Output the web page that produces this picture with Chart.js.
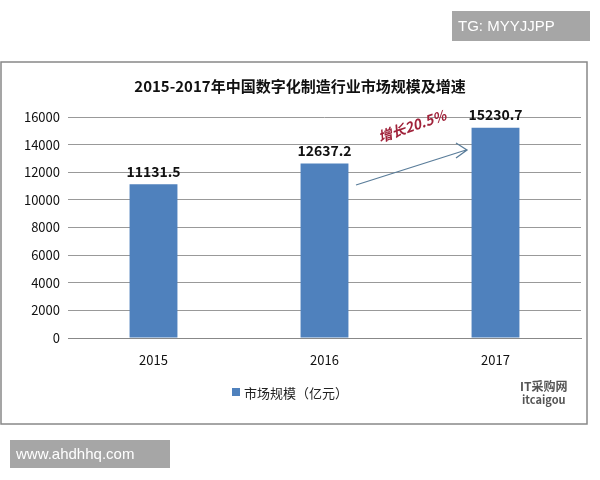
<!DOCTYPE html>
<html><head><meta charset="utf-8">
<script src="https://cdn.jsdelivr.net/npm/chart.js@4/dist/chart.umd.min.js"></script>
<style>body{margin:0;background:#fff}#c{display:block}</style>
</head><body>
<canvas id="c" width="600" height="480"></canvas>
<script>
var years = ["2015", "2016", "2017"];
var marketSize = [11131.5, 12637.2, 15230.7];
var yTicks = [0, 2000, 4000, 6000, 8000, 10000, 12000, 14000, 16000];
var FONT = '"Noto Sans CJK SC", "DejaVu Sans", sans-serif';

var deco = {
    id: 'deco',
    beforeDraw: function(chart) {
        var ctx = chart.ctx;
        ctx.save();
        ctx.fillStyle = '#fff';
        ctx.fillRect(0, 0, 600, 480);
        ctx.strokeStyle = '#888';
        ctx.lineWidth = 1.5;
        ctx.strokeRect(1, 62, 586, 362);
        ctx.fillStyle = '#111';
        ctx.font = 'bold 15px ' + FONT;
        ctx.textAlign = 'center';
        ctx.textBaseline = 'middle';
        ctx.fillText('2015-2017年中国数字化制造行业市场规模及增速', 300, 86);
        ctx.restore();
    },
    afterDraw: function(chart) {
        var ctx = chart.ctx;
        var xs = chart.scales.x, ys = chart.scales.y;
        ctx.save();
        // value labels
        ctx.fillStyle = '#111';
        ctx.font = 'bold 14px ' + FONT;
        ctx.textAlign = 'center';
        ctx.textBaseline = 'bottom';
        for (var i = 0; i < marketSize.length; i++) {
            ctx.fillText(marketSize[i].toFixed(1), xs.getPixelForValue(i), ys.getPixelForValue(marketSize[i]) - 6);
        }
        // arrow
        ctx.strokeStyle = '#5a7d9a';
        ctx.lineWidth = 1.3;
        ctx.beginPath();
        ctx.moveTo(356, 185); ctx.lineTo(466, 150);
        ctx.moveTo(456, 143); ctx.lineTo(467, 150); ctx.lineTo(456, 158);
        ctx.stroke();
        ctx.translate(412, 126);
        ctx.rotate(-0.33);
        ctx.fillStyle = '#a0223a';
        ctx.font = 'italic bold 14px ' + FONT;
        ctx.textAlign = 'center';
        ctx.textBaseline = 'middle';
        ctx.fillText('增长20.5%', 0, 0);
        ctx.restore();
        // legend
        ctx.save();
        ctx.fillStyle = '#4F81BD';
        ctx.fillRect(232, 388, 8, 8);
        ctx.fillStyle = '#222';
        ctx.font = '13px ' + FONT;
        ctx.textBaseline = 'middle';
        ctx.fillText('市场规模（亿元）', 244, 393);
        // watermark
        ctx.fillStyle = '#555';
        ctx.font = 'bold 12px ' + FONT;
        ctx.fillText('IT采购网', 520, 386);
        ctx.font = 'bold 11px ' + FONT;
        ctx.fillText('itcaigou', 522, 400);
        // gray boxes
        ctx.fillStyle = '#a6a6a6';
        ctx.fillRect(452, 11, 138, 30);
        ctx.fillRect(10, 440, 160, 28);
        ctx.fillStyle = '#fff';
        ctx.font = '15px "Liberation Sans", Arial, sans-serif';
        ctx.fillText('TG: MYYJJPP', 458, 27);
        ctx.fillText('www.ahdhhq.com', 16, 455);
        ctx.restore();
    }
};

new Chart(document.getElementById('c'), {
    type: 'bar',
    data: {
        labels: years,
        datasets: [{ label: '市场规模（亿元）', data: marketSize, backgroundColor: '#4F81BD',
            barPercentage: 0.28, categoryPercentage: 1 }]
    },
    options: {
        responsive: false,
        animation: false,
        layout: { padding: { top: 117, left: 18, right: 19, bottom: 112 } },
        plugins: { legend: { display: false }, title: { display: false }, tooltip: { enabled: false } },
        scales: {
            x: {
                grid: { display: false },
                border: { color: '#888' },
                ticks: { color: '#111', font: { family: FONT, size: 13 }, padding: 6 },
                afterFit: function(s) { s.height = 30; }
            },
            y: {
                min: 0, max: 16000,
                afterBuildTicks: function(s) { s.ticks = yTicks.map(function(v) { return { value: v }; }); },
                grid: { color: '#999', drawTicks: false },
                border: { display: false },
                ticks: { color: '#111', font: { family: FONT, size: 13 }, padding: 8,
                    callback: function(v) { return String(v); } },
                afterFit: function(s) { s.width = 50; }
            }
        }
    },
    plugins: [deco]
});
</script>
</body></html>
